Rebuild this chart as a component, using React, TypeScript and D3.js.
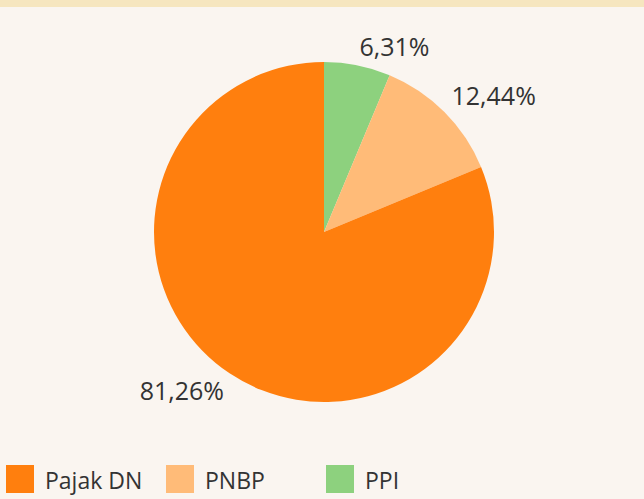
import React from "react";
import * as d3 from "d3";

const categories = ["Pajak DN", "PNBP", "PPI"];
const values = [81.26, 12.44, 6.31];
const colors = ["#ff7f0e", "#ffbb78", "#8dd17e"];
const pieOrder = ["PPI", "PNBP", "Pajak DN"];

const W = 644;
const H = 499;

export default function App() {
  const cx = 324;
  const cy = 232;
  const r = 170;
  const data = pieOrder.map((c) => {
    const i = categories.indexOf(c);
    return { name: c, value: values[i], color: colors[i] };
  });
  const pie = d3.pie<any>().sort(null).value((d) => d.value);
  const arcs = pie(data);
  const arc = d3.arc<any>().innerRadius(0).outerRadius(r);
  const fmt = (v: number) => v.toFixed(2).replace(".", ",") + "%";
  const font = "'Open Sans', sans-serif";
  const legendX = d3.scaleLinear().domain([0, 1]).range([6, 166]);

  return (
    <svg
      width={W}
      height={H}
      style={{ position: "fixed", left: 0, top: 0, display: "block" }}
      fontFamily={font}
    >
      <rect x={0} y={0} width={W} height={H} fill="#faf5f0" />
      <rect x={0} y={0} width={W} height={7} fill="#f6e6bf" />
      <g transform={`translate(${cx},${cy})`}>
        {arcs.map((a, i) => (
          <path key={i} d={arc(a) as string} fill={a.data.color} />
        ))}
        {arcs.map((a, i) => {
          const mid = (a.startAngle + a.endAngle) / 2;
          const lr = 180;
          const px = lr * Math.sin(mid);
          const py = -lr * Math.cos(mid);
          const anchor = Math.sin(mid) >= 0 ? "start" : "end";
          const by = Math.cos(mid) >= 0 ? py : py + 18;
          return (
            <text
              key={"l" + i}
              x={px}
              y={by}
              textAnchor={anchor}
              fontSize={25}
              fill="#333"
            >
              {fmt(a.data.value)}
            </text>
          );
        })}
      </g>
      <g>
        {categories.map((c, i) => (
          <g key={c} transform={`translate(${legendX(i)},465)`}>
            <rect x={0} y={0} width={28} height={28} fill={colors[i]} />
            <text x={39} y={24} fontSize={23} fill="#333">
              {c}
            </text>
          </g>
        ))}
      </g>
    </svg>
  );
}
